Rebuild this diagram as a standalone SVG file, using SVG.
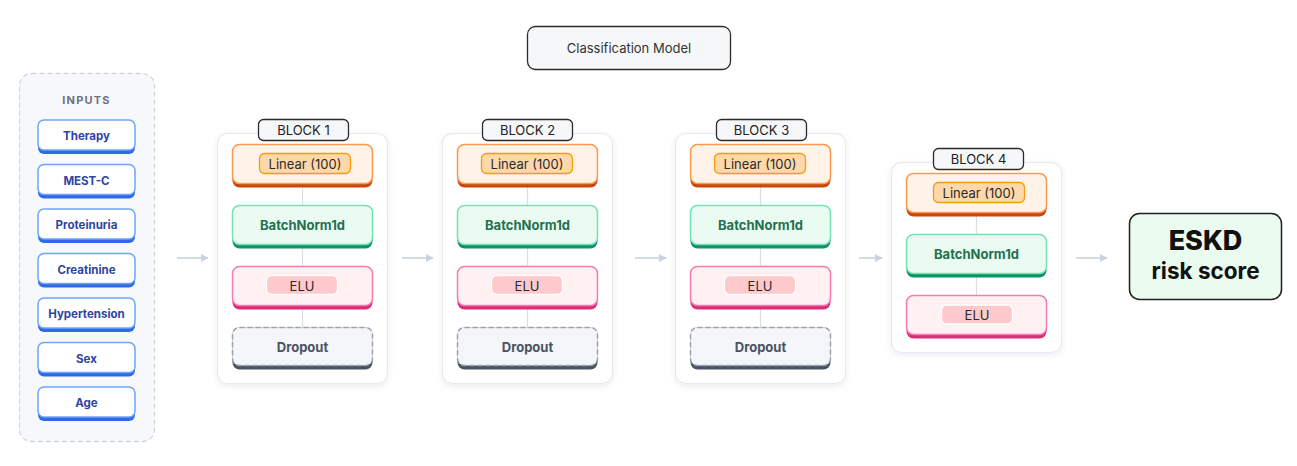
<svg xmlns="http://www.w3.org/2000/svg" width="1297" height="466" viewBox="0 0 1297 466">
<defs>
<filter id="sh" x="-10%" y="-10%" width="120%" height="120%"><feDropShadow dx="0" dy="2" stdDeviation="3" flood-color="#1f2937" flood-opacity="0.08"/></filter>
<marker id="ar" viewBox="0 0 10 10" refX="9" refY="5" markerWidth="8" markerHeight="8" orient="auto" markerUnits="userSpaceOnUse"><path d="M0,0 L10,5 L0,10 z" fill="#c9d2df"/></marker>
</defs>
<style>
text{font-family:Inter,"Noto Sans","Liberation Sans",sans-serif;text-anchor:middle;dominant-baseline:central}
.card{fill:#fff;stroke:#e6eaf0;stroke-width:1.2}
.lbl{fill:#f6f7f9;stroke:#2b2b2b;stroke-width:1.3}
.lblt{font-size:13px;fill:#222}
.inb{fill:#2f6ae6}
.inm{fill:#fff;stroke:#6ea6f7;stroke-width:1.5}
.int{font-size:11.5px;font-weight:700;fill:#2f45a0}
.lb{fill:#c7470e}.lm{fill:#fff2e8;stroke:#fb9a4f;stroke-width:1.5}
.lp{fill:#fed8ab;stroke:#f59e0b;stroke-width:1.3}
.bb{fill:#0f9466}.bm{fill:#eafbf2;stroke:#74e2b4;stroke-width:1.5}
.bt{font-size:13px;font-weight:700;fill:#23704f}
.eb{fill:#dc2d78}.em{fill:#fff0f1;stroke:#f57bb4;stroke-width:1.5}
.ep{fill:#fdc9cc;stroke:#fff;stroke-width:1.3}
.pt{font-size:13px;fill:#2a2a2a}
.db{fill:#4a5465}.dm{fill:#f5f6f9;stroke:#9ba3ae;stroke-width:1.5;stroke-dasharray:5 3}
.dt{font-size:13px;font-weight:700;fill:#4b5261}
.cn{stroke:#d9dee6;stroke-width:1.2}
.arw{stroke:#c9d2df;stroke-width:1.6;fill:none;marker-end:url(#ar)}
</style>

<g id="title">
<rect x="527.5" y="26.5" width="203" height="43" rx="8" class="lbl"/>
<text x="629" y="48" style="font-size:13px;fill:#333">Classification Model</text>
</g>

<g id="inputs">
<rect x="19.5" y="73.5" width="135" height="368" rx="12" fill="#f6f8fb" stroke="#cfd6e0" stroke-width="1.3" stroke-dasharray="5 3"/>
<text x="86.5" y="100" style="font-size:11px;font-weight:700;fill:#6b7280;letter-spacing:1.2px">INPUTS</text>
<g id="in-therapy"><rect x="38" y="121" width="97" height="33" rx="6" class="inb"/><rect x="38" y="120" width="97" height="30" rx="6" class="inm"/><text x="86.5" y="136" class="int">Therapy</text></g>
<g id="in-mestc"><rect x="38" y="165.5" width="97" height="33" rx="6" class="inb"/><rect x="38" y="164.5" width="97" height="30" rx="6" class="inm"/><text x="86.5" y="180.5" class="int">MEST-C</text></g>
<g id="in-proteinuria"><rect x="38" y="210" width="97" height="33" rx="6" class="inb"/><rect x="38" y="209" width="97" height="30" rx="6" class="inm"/><text x="86.5" y="225" class="int">Proteinuria</text></g>
<g id="in-creatinine"><rect x="38" y="254.5" width="97" height="33" rx="6" class="inb"/><rect x="38" y="253.5" width="97" height="30" rx="6" class="inm"/><text x="86.5" y="269.5" class="int">Creatinine</text></g>
<g id="in-hypertension"><rect x="38" y="299" width="97" height="33" rx="6" class="inb"/><rect x="38" y="298" width="97" height="30" rx="6" class="inm"/><text x="86.5" y="314" class="int">Hypertension</text></g>
<g id="in-sex"><rect x="38" y="343.5" width="97" height="33" rx="6" class="inb"/><rect x="38" y="342.5" width="97" height="30" rx="6" class="inm"/><text x="86.5" y="358.5" class="int">Sex</text></g>
<g id="in-age"><rect x="38" y="388" width="97" height="33" rx="6" class="inb"/><rect x="38" y="387" width="97" height="30" rx="6" class="inm"/><text x="86.5" y="403" class="int">Age</text></g>
</g>

<g id="block1">
<rect x="217.5" y="133.5" width="170" height="250" rx="10" class="card" filter="url(#sh)"/>
<rect x="258.5" y="119.5" width="90" height="21" rx="5" class="lbl"/><text x="303.5" y="130" class="lblt">BLOCK 1</text>
<line x1="302.5" y1="186" x2="302.5" y2="205" class="cn"/><line x1="302.5" y1="247" x2="302.5" y2="266" class="cn"/><line x1="302.5" y1="308" x2="302.5" y2="327" class="cn"/>
<rect x="232.5" y="144.5" width="140" height="43" rx="7" class="lb"/><rect x="232.5" y="144.5" width="140" height="39" rx="7" class="lm"/>
<rect x="259.5" y="153.5" width="91" height="20" rx="5" class="lp"/><text x="305" y="163.5" class="pt">Linear (100)</text>
<rect x="232.5" y="205.5" width="140" height="43" rx="7" class="bb"/><rect x="232.5" y="205.5" width="140" height="39" rx="7" class="bm"/><text x="302.5" y="225" class="bt">BatchNorm1d</text>
<rect x="232.5" y="266.5" width="140" height="43" rx="7" class="eb"/><rect x="232.5" y="266.5" width="140" height="39" rx="7" class="em"/>
<rect x="266.5" y="275.5" width="71" height="19" rx="5" class="ep"/><text x="302" y="285.5" class="pt">ELU</text>
<rect x="232.5" y="327.5" width="140" height="42" rx="7" class="db"/><rect x="232.5" y="327.5" width="140" height="38" rx="7" class="dm"/><text x="302.5" y="346.5" class="dt">Dropout</text>
</g>

<g id="block2">
<rect x="442.5" y="133.5" width="170" height="250" rx="10" class="card" filter="url(#sh)"/>
<rect x="482.5" y="119.5" width="90" height="21" rx="5" class="lbl"/><text x="527.5" y="130" class="lblt">BLOCK 2</text>
<line x1="527.5" y1="186" x2="527.5" y2="205" class="cn"/><line x1="527.5" y1="247" x2="527.5" y2="266" class="cn"/><line x1="527.5" y1="308" x2="527.5" y2="327" class="cn"/>
<rect x="457.5" y="144.5" width="140" height="43" rx="7" class="lb"/><rect x="457.5" y="144.5" width="140" height="39" rx="7" class="lm"/>
<rect x="481.5" y="153.5" width="91" height="20" rx="5" class="lp"/><text x="527" y="163.5" class="pt">Linear (100)</text>
<rect x="457.5" y="205.5" width="140" height="43" rx="7" class="bb"/><rect x="457.5" y="205.5" width="140" height="39" rx="7" class="bm"/><text x="527.5" y="225" class="bt">BatchNorm1d</text>
<rect x="457.5" y="266.5" width="140" height="43" rx="7" class="eb"/><rect x="457.5" y="266.5" width="140" height="39" rx="7" class="em"/>
<rect x="491.5" y="275.5" width="71" height="19" rx="5" class="ep"/><text x="527" y="285.5" class="pt">ELU</text>
<rect x="457.5" y="327.5" width="140" height="42" rx="7" class="db"/><rect x="457.5" y="327.5" width="140" height="38" rx="7" class="dm"/><text x="527.5" y="346.5" class="dt">Dropout</text>
</g>

<g id="block3">
<rect x="675.5" y="133.5" width="170" height="250" rx="10" class="card" filter="url(#sh)"/>
<rect x="716.5" y="119.5" width="90" height="21" rx="5" class="lbl"/><text x="761.5" y="130" class="lblt">BLOCK 3</text>
<line x1="760.5" y1="186" x2="760.5" y2="205" class="cn"/><line x1="760.5" y1="247" x2="760.5" y2="266" class="cn"/><line x1="760.5" y1="308" x2="760.5" y2="327" class="cn"/>
<rect x="690.5" y="144.5" width="140" height="43" rx="7" class="lb"/><rect x="690.5" y="144.5" width="140" height="39" rx="7" class="lm"/>
<rect x="714.5" y="153.5" width="91" height="20" rx="5" class="lp"/><text x="760" y="163.5" class="pt">Linear (100)</text>
<rect x="690.5" y="205.5" width="140" height="43" rx="7" class="bb"/><rect x="690.5" y="205.5" width="140" height="39" rx="7" class="bm"/><text x="760.5" y="225" class="bt">BatchNorm1d</text>
<rect x="690.5" y="266.5" width="140" height="43" rx="7" class="eb"/><rect x="690.5" y="266.5" width="140" height="39" rx="7" class="em"/>
<rect x="724.5" y="275.5" width="71" height="19" rx="5" class="ep"/><text x="760" y="285.5" class="pt">ELU</text>
<rect x="690.5" y="327.5" width="140" height="42" rx="7" class="db"/><rect x="690.5" y="327.5" width="140" height="38" rx="7" class="dm"/><text x="760.5" y="346.5" class="dt">Dropout</text>
</g>

<g id="block4">
<rect x="891.5" y="162.5" width="170" height="190" rx="10" class="card" filter="url(#sh)"/>
<rect x="933.5" y="148.5" width="90" height="21" rx="5" class="lbl"/><text x="978.5" y="159" class="lblt">BLOCK 4</text>
<line x1="976.5" y1="215" x2="976.5" y2="234" class="cn"/><line x1="976.5" y1="276" x2="976.5" y2="295" class="cn"/>
<rect x="906.5" y="173.5" width="140" height="43" rx="7" class="lb"/><rect x="906.5" y="173.5" width="140" height="39" rx="7" class="lm"/>
<rect x="933.5" y="182.5" width="91" height="20" rx="5" class="lp"/><text x="979" y="192.5" class="pt">Linear (100)</text>
<rect x="906.5" y="234.5" width="140" height="43" rx="7" class="bb"/><rect x="906.5" y="234.5" width="140" height="39" rx="7" class="bm"/><text x="976.5" y="254" class="bt">BatchNorm1d</text>
<rect x="906.5" y="295.5" width="140" height="43" rx="7" class="eb"/><rect x="906.5" y="295.5" width="140" height="39" rx="7" class="em"/>
<rect x="941.5" y="305" width="71" height="19" rx="5" class="ep"/><text x="977" y="315" class="pt">ELU</text>
</g>

<g id="output">
<rect x="1129.5" y="213.5" width="152" height="86" rx="10" fill="#eafbef" stroke="#1f1f1f" stroke-width="1.5"/>
<text x="1205.5" y="240" style="font-size:27px;font-weight:800;fill:#111">ESKD</text>
<text x="1205.5" y="270" style="font-size:22.5px;font-weight:700;fill:#111">risk score</text>
</g>

<g id="connectors">
<line x1="177" y1="258" x2="208" y2="258" class="arw"/>
<line x1="402" y1="258" x2="433" y2="258" class="arw"/>
<line x1="635" y1="258" x2="666" y2="258" class="arw"/>
<line x1="859" y1="258" x2="882" y2="258" class="arw"/>
<line x1="1076" y1="258" x2="1107" y2="258" class="arw"/>
</g>
</svg>
